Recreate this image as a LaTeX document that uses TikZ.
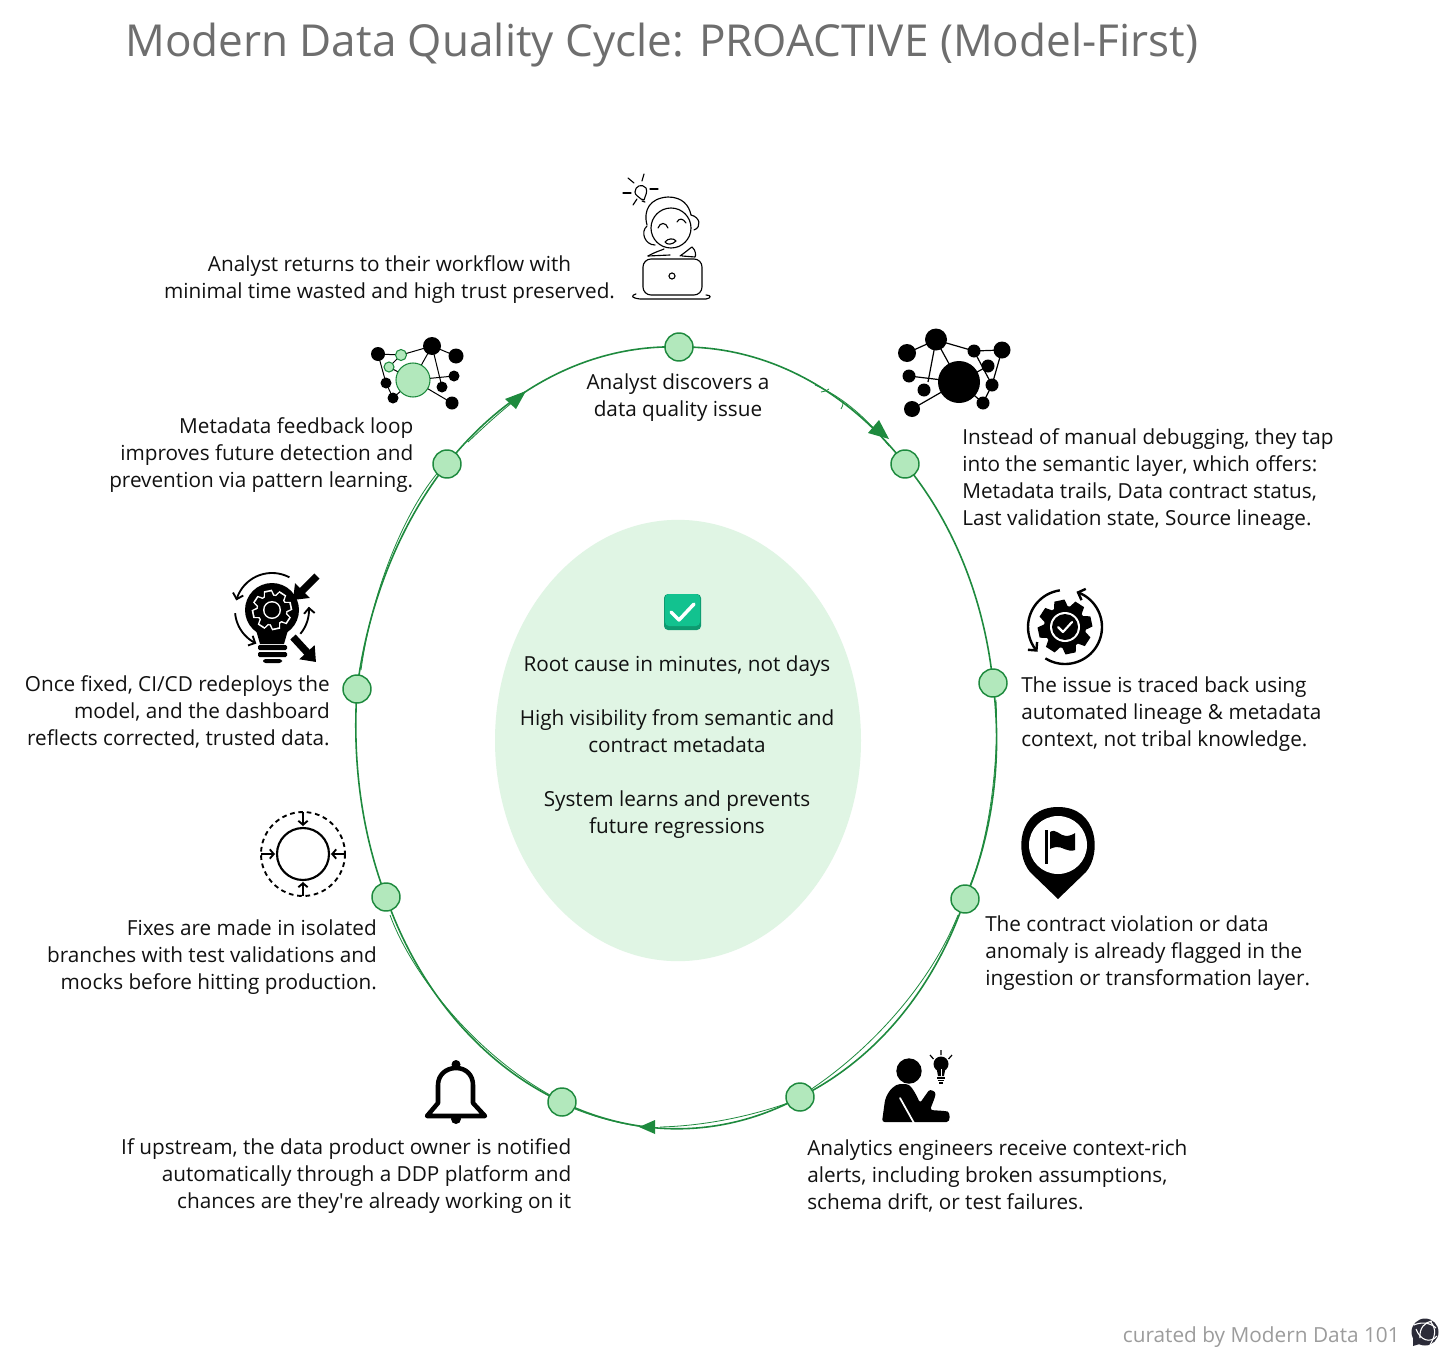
\documentclass[tikz,border=0pt]{standalone}
\usepackage{fontspec}
\setmainfont{Open Sans}
\newfontfamily\plainface{Open Sans}
\usetikzlibrary{arrows.meta,calc,shapes.geometric,backgrounds}
\definecolor{ringc}{HTML}{1E8A3E}
\definecolor{stationc}{HTML}{B2E8BC}
\definecolor{blobc}{HTML}{E0F5E4}
\definecolor{titlec}{HTML}{6E6E6E}
\definecolor{curc}{HTML}{9C9C9C}
\definecolor{bodyc}{HTML}{111111}
\definecolor{boxc}{HTML}{12C28F}
\definecolor{boxd}{HTML}{0E9A70}
\definecolor{logoc}{HTML}{2B2B38}
\tikzset{
  x=0.75pt,y=-0.75pt,
  station/.style={circle,draw=ringc,fill=stationc,line width=1.1pt,minimum size=21pt,inner sep=0pt},
  ring/.style={draw=ringc,line width=1.2pt},
  bodytext/.style={inner sep=0pt,text=bodyc,font=\fontsize{15.55}{20.25}\selectfont},
  lefttext/.style={bodytext,align=left,anchor=west},
  righttext/.style={bodytext,align=right,anchor=east},
  midtext/.style={bodytext,align=center,anchor=center},
  ilink/.style={draw=black,line width=0.9pt},
  iconline/.style={draw=black,line width=0.85pt,line cap=round,line join=round},
  smallarrow/.style={draw=black,line width=1.4pt,-{Straight Barb[length=3pt,width=7pt]}},
  bulbarrow/.style={draw=black,line width=1.4pt,-{Straight Barb[length=4pt,width=8pt]}},
  gcarrow/.style={draw=black,line width=1.8pt,-{Straight Barb[length=4.5pt,width=9pt]}},
  thickarrow/.style={draw=black,line width=5.5pt,-{Triangle[length=10pt,width=15pt]}},
  twin/.style={draw=ringc,line width=0.6pt},
}
% ring segment between two named stations along the ellipse (angles are the ellipse parameter)
\newcommand{\ringseg}[4]{%
  \pgfmathsetmacro{\kk}{4/3*tan((#4-#3)/4)}%
  \draw[ring] (#1.center) .. controls
    ({677+320*(cos(#3)-\kk*sin(#3))},{737-392*(sin(#3)+\kk*cos(#3))}) and
    ({677+320*(cos(#4)+\kk*sin(#4))},{737-392*(sin(#4)-\kk*cos(#4))}) .. (#2.center);}
% screen-clockwise arc from angle a to b
\newcommand{\iarc}[6][]{\draw[#1] plot[domain=#5:#6,samples=24,smooth] ({#2+#4*cos(\x)},{#3+#4*sin(\x)});}
\newcommand{\gearfill}[6]{% cx cy radius half-width colour step
  \foreach \aa in {0,#6,...,359}{\fill[#5,shift={(#1,#2)},rotate=\aa+12] (#3*0.6,-#4*1.2) -- (#3,-#4*0.8) -- (#3,#4*0.8) -- (#3*0.6,#4*1.2) -- cycle;}%
  \fill[#5] (#1,#2) circle[radius=#3*0.78];}
\begin{document}
\begin{tikzpicture}
\useasboundingbox (0,0) rectangle (1456,1363);

% Title
\node[anchor=west,inner sep=0pt,text=titlec,font=\fontsize{33.05}{40}\selectfont] (title) at (125,45) {Modern Data Quality Cycle: PROACTIVE (Model-First)};

% Stations
\node[station] (s1) at (679,347) {};
\node[station] (s2) at (905,464) {};
\node[station] (s3) at (993,683) {};
\node[station] (s4) at (965,899) {};
\node[station] (s5) at (800,1097) {};
\node[station] (s6) at (562,1102) {};
\node[station] (s7) at (386,897) {};
\node[station] (s8) at (357,689) {};
\node[station] (s9) at (447,464) {};

\begin{scope}[on background layer]
\fill[white] (0,0) rectangle (1456,1363);
% Central blob
\node[ellipse,fill=blobc,minimum width=274.5pt,minimum height=331pt,inner sep=0pt] (blob) at (678,740.5) {};
% Ring
\ringseg{s1}{s2}{89.6}{44.5}
\ringseg{s2}{s3}{44.5}{8}
\ringseg{s3}{s4}{8}{-25}
\ringseg{s4}{s5}{-25}{-67}
\ringseg{s5}{s6}{-67}{-111}
\ringseg{s6}{s7}{-111}{-156}
\ringseg{s7}{s8}{-156}{-187}
\ringseg{s8}{s9}{-187}{-224}
\ringseg{s9}{s1}{-224}{-270.4}
% slightly doubled strokes, as in the hand-drawn ring
\draw[twin] (815,385) .. controls (845,398) and (868,420) .. (889,446);
\draw[twin] (821,392) .. controls (826,391) .. (829,389);
\draw[twin] (841,409) .. controls (843,405) .. (843,402);
\draw[twin] (996,700) .. controls (999,760) and (990,840) .. (968,890);
\draw[twin] (958,915) .. controls (930,985) and (870,1050) .. (810,1090);
\draw[twin] (788,1103) .. controls (745,1118) and (700,1126) .. (660,1127);
\draw[twin] (575,1109) .. controls (595,1117) and (620,1124) .. (645,1127);
\draw[twin] (390,915) .. controls (410,970) and (470,1050) .. (550,1095);
\draw[twin] (361,670) .. controls (372,590) and (405,510) .. (440,470);
\draw[twin] (468,442) .. controls (490,421) and (505,408) .. (518,398);
\end{scope}

% Arrowheads
\fill[ringc] (889,439) -- (868,433) -- (879,420) -- cycle;
\fill[ringc] (526,391) -- (505,399) -- (516,409) -- cycle;
\fill[ringc] (639,1127) -- (655,1120) -- (655,1134) -- cycle;

% Texts
\node[midtext] (t1) at (389.5,280) {Analyst returns to their workflow with\\minimal time wasted and high trust preserved.};
\node[midtext] (t2) at (678,398) {Analyst discovers a\\data quality issue};
\node[lefttext] (t3) at (962,479.5) {Instead of manual debugging, they tap\\into the semantic layer, which offers:\\Metadata trails, Data contract status,\\Last validation state, Source lineage.};
\node[lefttext] (t4) at (1021,714) {The issue is traced back using\\automated lineage \& metadata\\context, not tribal knowledge.};
\node[lefttext] (t5) at (985,953) {The contract violation or data\\anomaly is already flagged in the\\ingestion or transformation layer.};
\node[lefttext] (t6) at (807,1175.5) {Analytics engineers receive context-rich\\alerts, including broken assumptions,\\schema drift, or test failures.};
\node[righttext] (t7) at (571.5,1176) {If upstream, the data product owner is notified\\automatically through a DDP platform and\\chances are they{\plainface '}re already working on it};
\node[righttext] (t8) at (377,957) {Fixes are made in isolated\\branches with test validations and\\mocks before hitting production.};
\node[righttext] (t9) at (330,711.5) {Once fixed, CI/CD redeploys the\\model, and the dashboard\\reflects corrected, trusted data.};
\node[righttext] (t10) at (413.5,455) {Metadata feedback loop\\improves future detection and\\prevention via pattern learning.};
\node[midtext] (t11) at (677,747) {Root cause in minutes, not days\\[20.25pt]High visibility from semantic and\\contract metadata\\[20.25pt]System learns and prevents\\future regressions};
\node[anchor=east,inner sep=0pt,text=curc,font=\fontsize{15.6}{18}\selectfont] (cur) at (1400,1337) {curated by Modern Data 101};

% Check box emoji
\fill[boxd,rounded corners=3pt] (664,594) rectangle (701,630);
\fill[boxc,rounded corners=3pt] (665,594) rectangle (700,626);
\draw[white,line width=2.6pt,line cap=round,line join=round] (671,612) -- (679,620) -- (694,604);

% Person icon (top)
\begin{scope}[iconline]
  \draw (671,228) circle[radius=20];
  \draw (647,225) .. controls (643,210) and (650,198) .. (668,197) .. controls (682,197) and (689,205) .. (691,215);
  \draw (691,215) .. controls (700,217) and (702,227) .. (694,230);
  \draw (647,226) .. controls (640,232) and (645,245) .. (655,245);
  \draw (658,228) .. controls (660,222) and (666,222) .. (668,228);
  \draw (677,222) .. controls (679,218) and (683,218) .. (686,223);
  \draw (665,242) .. controls (668,238) and (674,238) .. (676,241) .. controls (672,245) and (667,245) .. (665,242);
  \draw (648,256) .. controls (655,252) and (662,250) .. (664,249);
  \draw (680,256) .. controls (686,252) and (690,248) .. (692,247) .. controls (696,250) and (696,256) .. (695,257) -- (682,256);
  \draw (648,256) -- (670,255);
  \draw[rounded corners=6pt] (643,259) rectangle (702,295);
  \draw (672,276) circle[radius=3];
  \draw (636,294) .. controls (630,296) and (632,298) .. (640,299) -- (706,299) .. controls (712,298) and (711,295) .. (706,295);
  \draw (635,192) .. controls (635,186) and (642,183) .. (646,188) .. controls (648,192) and (645,196) .. (644,200) -- (641,199) .. controls (639,196) and (635,196) .. (635,192);
  \draw (642,201) -- (645,202);
  \draw (628,178) -- (634,183);
  \draw (644,174) -- (642,181);
  \draw (623,193) -- (631,193);
  \draw (650,189) -- (658,189);
  \draw (633,205) -- (637,199);
\end{scope}

% Black network icon
\foreach \ax/\ay/\bx/\by in {936/340/907/353,936/340/959/382,936/340/974/351,936/340/928/382,909/376/959/382,912/409/959/382,974/351/1002/350,1002/350/992/385,974/351/992/385,992/385/983/403,983/403/959/382,988/366/959/382}
  \draw[ilink] (\ax,\ay) -- (\bx,\by);
\foreach \cx/\cy/\rr in {936/339.5/11,907/353/9,1002/350/8.5,974/351/6.5,988/366/6.5,909/376/6.5,924/390/6.5,959/382/21,992/385/6.5,983/403/6.5,912/409/8}
  \fill[black] (\cx,\cy) circle[radius=\rr];

% Green network icon
\foreach \ax/\ay/\bx/\by in {378/354/401/355,401/355/432/346,432/346/456/356,432/346/442/387,432/346/413/380,378/354/386/383,386/383/393/398,393/398/413/380,413/380/452/403,413/380/454/376,389/367/401/355,389/367/413/380}
  \draw[ilink,line width=0.75pt] (\ax,\ay) -- (\bx,\by);
\foreach \cx/\cy/\rr in {378/354/7,432/346/9,456/356/7.5,454/376/5.5,442/387/5.5,452/403/6.5,393/398/5.5,386/383/5.5}
  \fill[black] (\cx,\cy) circle[radius=\rr];
\foreach \cx/\cy/\rr in {413/380/17,401/355/5.5,389/367/5}
  \draw[ringc,fill=stationc,line width=0.8pt] (\cx,\cy) circle[radius=\rr];

% Gear-check icon
\gearfill{1065}{627}{27}{6.5}{black}{45}
\fill[white] (1065,627) circle[radius=15];
\fill[black] (1065,627) circle[radius=13];
\draw[white,line width=1.6pt,line cap=round,line join=round] (1058,627) -- (1063,632) -- (1072,622);
\iarc[gcarrow]{1065}{627}{37}{-98}{-222}
\iarc[gcarrow]{1065}{627}{37}{122}{-72}

% Pin icon
\fill[black] (1058,899) -- (1030,872) .. controls (1014,853) and (1018,807) .. (1058,807) .. controls (1098,807) and (1102,853) .. (1086,872) -- cycle;
\fill[white] (1058,845) circle[radius=29];
\fill[black] (1044.5,830) rectangle (1047.5,864);
\fill[black] (1050,832) .. controls (1056,828) and (1060,836) .. (1066,836) .. controls (1070,836) and (1074,834) .. (1075,833) -- (1075,850) .. controls (1068,853) and (1062,846) .. (1056,847) .. controls (1053,847) and (1051,849) .. (1050,849) -- cycle;

% Person with idea icon
\fill[black] (909,1071) circle[radius=12.7];
\fill[black,rounded corners=2pt] (882,1122) -- (885,1100) .. controls (889,1090) and (895,1084) .. (903,1084) .. controls (910,1084) and (914,1090) .. (920,1103) -- (927,1093) .. controls (930,1089) and (936,1091) .. (935,1097) -- (930,1110) -- (945,1111) .. controls (950,1112) and (951,1122) .. (944,1122) -- cycle;
\draw[white,line width=1.3pt,line cap=round] (900,1098) -- (914,1123);
\fill[black] (941,1064) circle[radius=7.5];
\fill[black] (936.5,1068) -- (945.5,1068) -- (944,1076) -- (938,1076) -- cycle;
\draw[white,line width=0.7pt] (941,1069) -- (941,1076);
\draw[black,line width=0.9pt] (937,1078) -- (945,1078) (938,1080.5) -- (944,1080.5) (939,1083) -- (943,1083);
\draw[black,line width=0.9pt] (941,1050) -- (941,1055) (930,1055) -- (933.5,1059) (952,1055) -- (948.5,1059);

% Bell icon
\fill[black] (456,1064.5) circle[radius=4.5];
\fill[black] (456,1119) circle[radius=5];
\draw[black,fill=white,line width=3.4pt,line join=round] (427,1116) -- (438,1103) -- (438,1085) .. controls (438,1075) and (446,1068) .. (456,1068) .. controls (466,1068) and (473,1075) .. (473,1085) -- (473,1103) -- (485,1116) -- cycle;

% Dashed circle icon
\draw[black,line width=1.4pt,dash pattern=on 3.5pt off 2.8pt] (303,854) circle[radius=42];
\draw[black,line width=1.6pt] (303,854) circle[radius=26];
\draw[smallarrow] (303,812) -- (303,826);
\draw[smallarrow] (303,896) -- (303,882);
\draw[smallarrow] (261,854) -- (275,854);
\draw[smallarrow] (345,854) -- (331,854);

% Bulb-gear icon
\fill[black] (272,610) circle[radius=27];
\fill[black] (256,630) -- (288,630) -- (284,644) -- (260,644) -- cycle;
\fill[black,rounded corners=1pt] (258,645) rectangle (287,650);
\fill[black,rounded corners=1pt] (258,652) rectangle (287,657);
\fill[black,rounded corners=2pt] (263,659) rectangle (282,663);
\gearfill{272}{610}{20}{5}{white}{45}
\gearfill{272}{610}{18.3}{3.8}{black}{45}
\fill[white] (272,610) circle[radius=9];
\fill[black] (272,610) circle[radius=7.5];
\iarc[bulbarrow]{272}{610}{37}{-62}{-165}
\iarc[bulbarrow]{272}{610}{37}{175}{115}
\iarc[bulbarrow]{272}{610}{37}{40}{-5}
\draw[thickarrow] (317,576) -- (293,600);
\draw[thickarrow] (293,637) -- (316,662);

% Logo
\fill[logoc] (1425,1332) circle[radius=13.5];
\fill[logoc] (1413,1336) -- (1413,1346) -- (1423,1343) -- cycle;
\draw[white,line width=0.8pt] (1414,1325) .. controls (1420,1322) and (1430,1322) .. (1436,1328);
\draw[white,line width=0.8pt] (1416,1329) .. controls (1420,1340) and (1430,1344) .. (1437,1336);
\draw[white,line width=0.8pt] (1420,1338) .. controls (1419,1328) and (1425,1322) .. (1432,1321);
\draw[white,line width=0.8pt] (1430,1321) .. controls (1438,1330) and (1434,1338) .. (1430,1345);
\end{tikzpicture}
\end{document}
